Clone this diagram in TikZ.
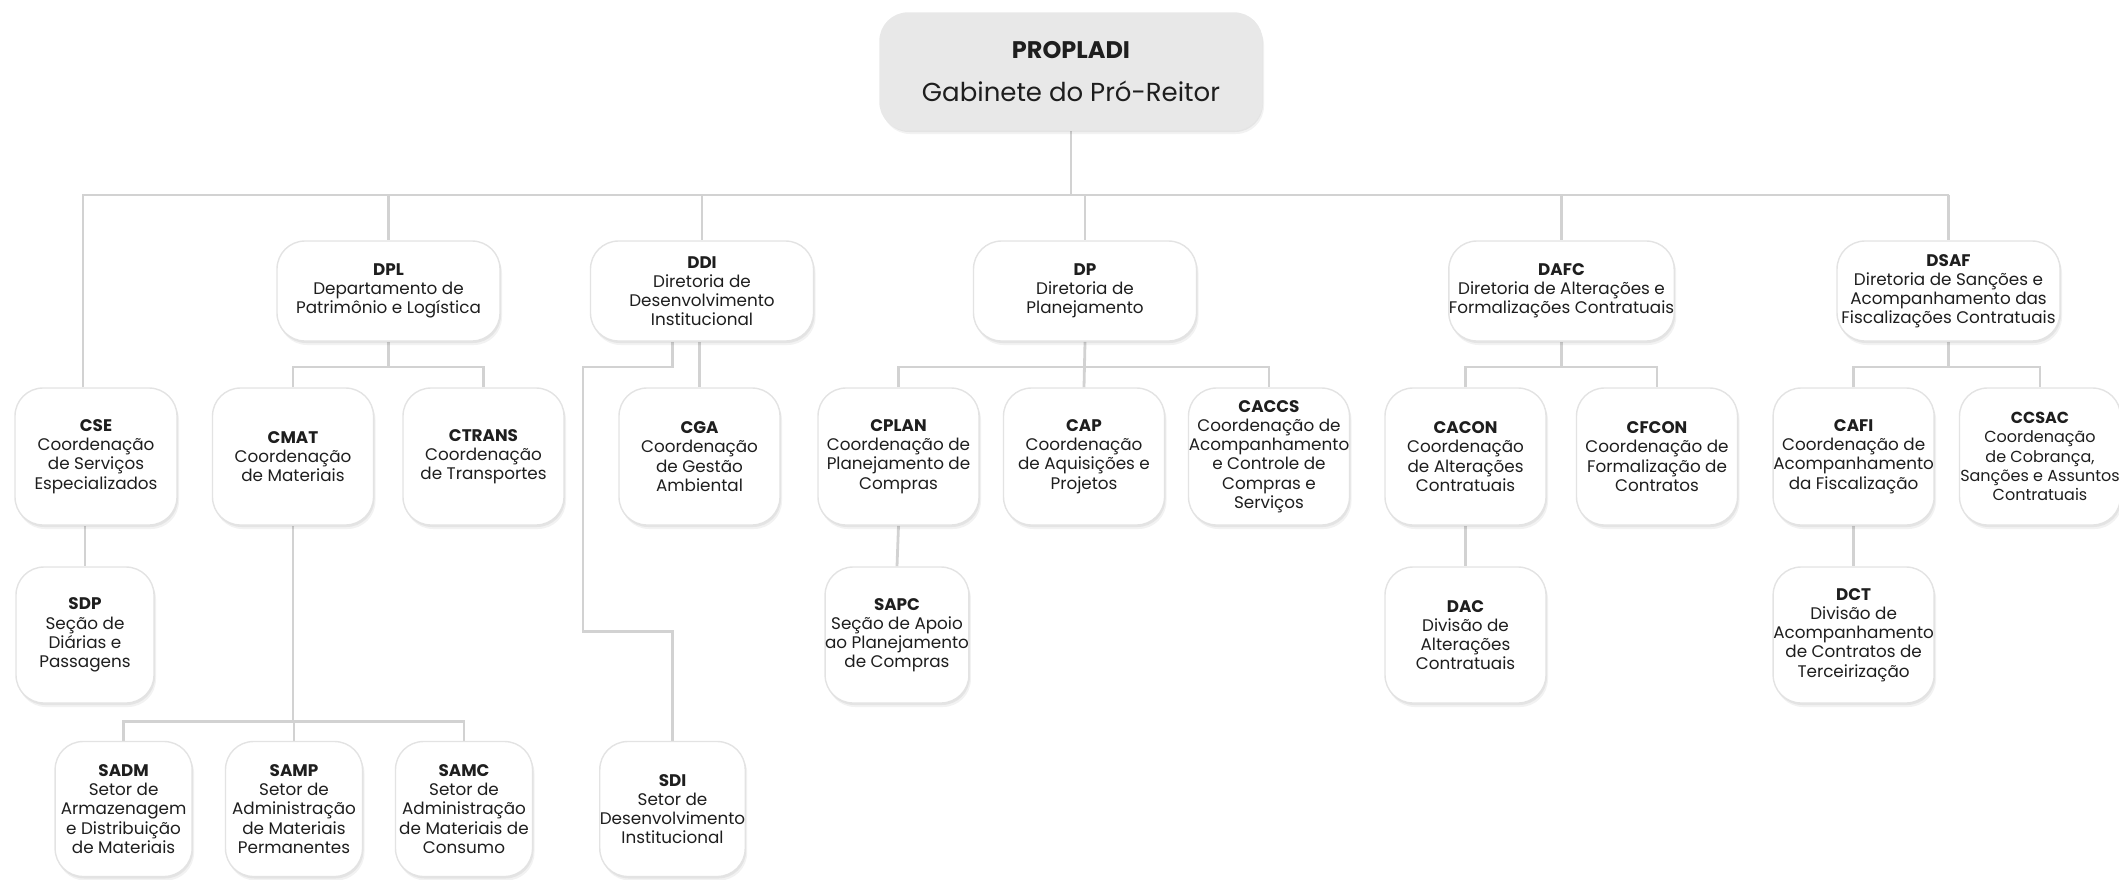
\documentclass[tikz,border=0pt]{standalone}
\usepackage{fontspec}
\setmainfont{Poppins}
\usetikzlibrary{shadows,backgrounds}
\definecolor{linegray}{HTML}{D2D2D2}
\definecolor{rootgray}{HTML}{E8E8E8}
\definecolor{txt}{HTML}{1E1E1E}
\newcommand{\bodyfnt}{\fontsize{8.4}{9.6}\selectfont}
\tikzset{
  orgbox/.style={draw=black!11, line width=0.7pt, fill=white, rounded corners=14pt,
    align=center, inner sep=0pt, text=txt, font=\bodyfnt,
    drop shadow={shadow xshift=1pt, shadow yshift=-2pt, opacity=0.05, fill=black},
    drop shadow={shadow xshift=0.5pt, shadow yshift=-1pt, opacity=0.06, fill=black}},
  lvlone/.style={orgbox, minimum width=111.5pt, minimum height=50pt},
  lvltwo/.style={orgbox, minimum width=80.5pt, minimum height=68.5pt},
  lvlsmall/.style={orgbox, minimum width=68.5pt, minimum height=68pt},
  lvlfour/.style={orgbox, minimum width=68.5pt, minimum height=67.5pt},
  conn/.style={draw=linegray, line width=1.4pt},
}
\begin{document}
\begin{tikzpicture}[x=0.5pt, y=-0.5pt]
\useasboundingbox (0,0) rectangle (2119,879);

% root
\node[orgbox, fill=rootgray, draw=rootgray, minimum width=191pt, minimum height=58.5pt,
  font=\fontsize{13}{21.5}\selectfont] (root) at (1071,71.5)
  {\fontsize{12}{21.5}\selectfont\textbf{PROPLADI}\\Gabinete do Pró-Reitor};

% level 1
\node[lvlone] (dpl) at (388.5,291) {\textbf{DPL}\\Departamento de\\Patrimônio e Logística};
\node[lvlone] (ddi) at (702,291) {\textbf{DDI}\\Diretoria de\\Desenvolvimento\\Institucional};
\node[lvlone] (dp) at (1085,291) {\textbf{DP}\\Diretoria de\\Planejamento};
\node[lvlone] (dafc) at (1561.5,291) {\textbf{DAFC}\\Diretoria de Alterações e\\Formalizações Contratuais};
\node[lvlone] (dsaf) at (1948.5,291) {\textbf{DSAF}\\Diretoria de Sanções e\\Acompanhamento das\\Fiscalizações Contratuais};

% level 2
\node[lvltwo, minimum width=81pt] (cse) at (96,456.5) {\textbf{CSE}\\Coordenação\\de Serviços\\Especializados};
\node[lvltwo] (cmat) at (293,456.5) {\textbf{CMAT}\\Coordenação\\de Materiais};
\node[lvltwo] (ctrans) at (483.5,456.5) {\textbf{CTRANS}\\Coordenação\\de Transportes};
\node[lvltwo] (cga) at (699.5,456.5) {\textbf{CGA}\\Coordenação\\de Gestão\\Ambiental};
\node[lvltwo] (cplan) at (898.5,456.5) {\textbf{CPLAN}\\Coordenação de\\Planejamento de\\Compras};
\node[lvltwo] (cap) at (1084,456.5) {\textbf{CAP}\\Coordenação\\de Aquisições e\\Projetos};
\node[lvltwo] (caccs) at (1269,456.5) {\textbf{CACCS}\\Coordenação de\\Acompanhamento\\e Controle de\\Compras e\\Serviços};
\node[lvltwo] (cacon) at (1465.5,456.5) {\textbf{CACON}\\Coordenação\\de Alterações\\Contratuais};
\node[lvltwo] (cfcon) at (1657,456.5) {\textbf{CFCON}\\Coordenação de\\Formalização de\\Contratos};
\node[lvltwo] (cafi) at (1853.6,456.5) {\textbf{CAFI}\\Coordenação de\\Acompanhamento\\da Fiscalização};
\node[lvltwo, font=\fontsize{8}{9.6}\selectfont] (ccsac) at (2040,456.5) {\textbf{CCSAC}\\Coordenação\\de Cobrança,\\Sanções e Assuntos\\Contratuais};

% level 3
\node[lvlsmall, minimum width=69pt] (sdp) at (85,635) {\textbf{SDP}\\Seção de\\Diárias e\\Passagens};
\node[lvlsmall] (sapc) at (897,635) {\textbf{SAPC}\\Seção de Apoio\\ao Planejamento\\de Compras};
\node[lvlsmall, minimum width=80.5pt] (dac) at (1465.5,635) {\textbf{DAC}\\Divisão de\\Alterações\\Contratuais};
\node[lvlsmall, minimum width=80.5pt] (dct) at (1853.6,635) {\textbf{DCT}\\Divisão de\\Acompanhamento\\de Contratos de\\Terceirização};

% level 4
\node[lvlfour] (sadm) at (123.6,809) {\textbf{SADM}\\Setor de\\Armazenagem\\e Distribuição\\de Materiais};
\node[lvlfour] (samp) at (294,809) {\textbf{SAMP}\\Setor de\\Administração\\de Materiais\\Permanentes};
\node[lvlfour] (samc) at (464,809) {\textbf{SAMC}\\Setor de\\Administração\\de Materiais de\\Consumo};
\node[lvlfour] (sdi) at (672.5,809) {\textbf{SDI}\\Setor de\\Desenvolvimento\\Institucional};

% bus coordinates
\coordinate (busL) at (83,195);
\coordinate (sb) at (0,367);
\coordinate (cb) at (0,721.7);
\coordinate (ddiA) at (583,367);
\coordinate (ddiB) at (583,631.7);

\begin{scope}[on background layer]
  % main bus
  \draw[conn] (root.south) -- (root.south |- busL);
  \draw[conn] (busL |- cse.north) -- (busL) -- (dsaf.north |- busL);
  \draw[conn] (dpl.north |- busL) -- (dpl.north);
  \draw[conn] (ddi.north |- busL) -- (ddi.north);
  \draw[conn] (dp.north |- busL) -- (dp.north);
  \draw[conn] (dafc.north |- busL) -- (dafc.north);
  \draw[conn] (dsaf.north |- busL) -- (dsaf.north);
  % CSE
  \draw[conn] (cse.south -| sdp.north) -- (sdp.north);
  % DPL
  \draw[conn] (dpl.south) -- (dpl.south |- sb);
  \draw[conn] (cmat.north) |- (ctrans.north |- sb) -- (ctrans.north);
  \draw[conn] (cmat.south) -- (cmat.south |- cb);
  \draw[conn] (sadm.north) |- (samc.north |- cb) -- (samc.north);
  \draw[conn] (samp.north |- cb) -- (samp.north);
  % DDI
  \draw[conn] (ddi.south -| cga.north) -- (cga.north);
  \draw[conn] (ddi.south -| sdi.north) |- (ddiA) -- (ddiB) -| (sdi.north);
  % DP
  \draw[conn] (dp.south) -- (cap.north);
  \draw[conn] (cplan.north) |- (caccs.north |- sb) -- (caccs.north);
  \draw[conn] (cplan.south) -- (sapc.north);
  % DAFC
  \draw[conn] (dafc.south) -- (dafc.south |- sb);
  \draw[conn] (cacon.north) |- (cfcon.north |- sb) -- (cfcon.north);
  \draw[conn] (cacon.south) -- (dac.north);
  % DSAF
  \draw[conn] (dsaf.south) -- (dsaf.south |- sb);
  \draw[conn] (cafi.north) |- (ccsac.north |- sb) -- (ccsac.north);
  \draw[conn] (cafi.south) -- (dct.north);
\end{scope}
\end{tikzpicture}
\end{document}
